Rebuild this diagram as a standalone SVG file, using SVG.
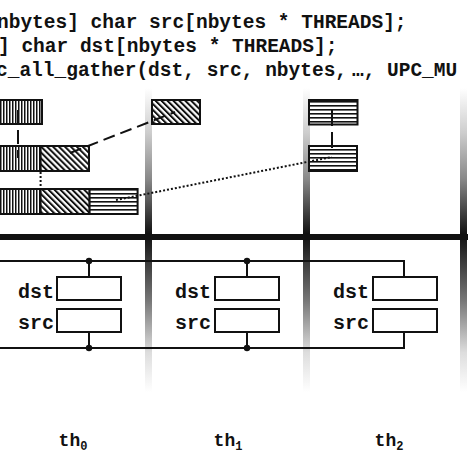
<svg xmlns="http://www.w3.org/2000/svg" width="474" height="474" viewBox="0 0 474 474">
<defs>
<style>
.code{font-family:"Liberation Mono","Courier New",monospace;font-weight:bold;font-size:19.5px;fill:#111}
.lbl{font-family:"Liberation Mono","Courier New",monospace;font-weight:bold;font-size:20px;fill:#111;text-anchor:end}
.th{font-family:"Liberation Mono","Courier New",monospace;font-weight:bold;font-size:18px;fill:#111;text-anchor:middle}
.blk{stroke:#111;stroke-width:2}
.box{fill:#fff;stroke:#111;stroke-width:2}
.wire{fill:none;stroke:#111;stroke-width:2}
.bar{fill:url(#barg)}
</style>
<linearGradient id="barg" gradientUnits="userSpaceOnUse" x1="0" y1="88" x2="0" y2="392">
<stop offset="0" stop-color="#fff"/>
<stop offset="0.15" stop-color="#ccc"/>
<stop offset="0.3" stop-color="#888"/>
<stop offset="0.48" stop-color="#111"/>
<stop offset="0.52" stop-color="#222"/>
<stop offset="0.7" stop-color="#777"/>
<stop offset="0.87" stop-color="#ddd"/>
<stop offset="1" stop-color="#fff"/>
</linearGradient>
<pattern id="vs" width="3" height="3" patternUnits="userSpaceOnUse"><rect width="3" height="3" fill="#fff"/><rect width="1.5" height="3" fill="#111"/></pattern>
<pattern id="hs" width="4" height="4" patternUnits="userSpaceOnUse"><rect width="4" height="4" fill="#fff"/><rect y="1" width="4" height="1.6" fill="#111"/></pattern>
<pattern id="ds" width="4.2" height="4.2" patternUnits="userSpaceOnUse" patternTransform="rotate(-45)"><rect width="4.2" height="4.2" fill="#fff"/><rect width="2" height="4.2" fill="#111"/></pattern>
</defs>
<rect width="474" height="474" fill="#fff"/>

<g id="code">
<text class="code" x="-3" y="28">nbytes] char src[nbytes * THREADS];</text>
<text class="code" x="-2" y="52">] char dst[nbytes * THREADS];</text>
<text class="code" x="-4" y="76">c_all_gather(dst, src, nbytes,<tspan x="352">…,</tspan><tspan x="387">UPC_MU</tspan></text>
</g>

<g id="thread-bars">
<rect class="bar" x="145" y="88" width="7" height="304"/>
<rect class="bar" x="303" y="88" width="7" height="304"/>
<rect class="bar" x="460" y="88" width="7" height="304"/>
</g>

<g id="bus">
<rect x="0" y="234" width="468" height="6" fill="#111"/>
</g>

<g id="th0-mem">
<rect class="blk" x="-5" y="100" width="47" height="24" fill="url(#vs)"/>
<rect class="blk" x="-5" y="146" width="45.6" height="25" fill="url(#vs)"/>
<rect class="blk" x="40.6" y="146" width="48.4" height="25" fill="url(#ds)"/>
<rect class="blk" x="-5" y="189" width="45.6" height="25" fill="url(#vs)"/>
<rect class="blk" x="40.6" y="189" width="49" height="25" fill="url(#ds)"/>
<rect class="blk" x="89.6" y="189" width="48" height="25" fill="url(#hs)"/>
</g>
<g id="th1-mem">
<rect class="blk" x="152" y="100" width="48" height="24" fill="url(#ds)"/>
</g>
<g id="th2-mem">
<rect class="blk" x="309" y="100" width="48.5" height="24.5" fill="url(#hs)"/>
<rect class="blk" x="309" y="146" width="48" height="25" fill="url(#hs)"/>
</g>

<g id="connectors">
<line x1="18" y1="110" x2="18" y2="158" class="wire" stroke-dasharray="14 6"/>
<line x1="332" y1="110" x2="332" y2="152" class="wire" stroke-width="2.5" stroke-dasharray="16 6"/>
<line x1="70" y1="153" x2="175" y2="112" class="wire" stroke-width="2.5" stroke-dasharray="12 6"/>
<line x1="40.6" y1="172" x2="40.6" y2="189" class="wire" stroke-width="2.5" stroke-dasharray="2 2"/>
<line x1="116" y1="200" x2="332" y2="157" class="wire" stroke-width="2.5" stroke-dasharray="2 2"/>
<polyline class="wire" points="0,261 404,261 404,284"/>
<polyline class="wire" points="0,348 404,348 404,324"/>
<line x1="89" y1="261" x2="89" y2="284" class="wire"/>
<line x1="89" y1="348" x2="89" y2="324" class="wire"/>
<line x1="247" y1="261" x2="247" y2="284" class="wire"/>
<line x1="247" y1="348" x2="247" y2="324" class="wire"/>
<circle cx="89" cy="261" r="3.2" fill="#111"/>
<circle cx="89" cy="348" r="3.2" fill="#111"/>
<circle cx="247" cy="261" r="3.2" fill="#111"/>
<circle cx="247" cy="348" r="3.2" fill="#111"/>
</g>

<g id="th0">
<text class="lbl" x="54" y="298">dst</text>
<rect class="box" x="57" y="277" width="64" height="23" fill="none"/>
<text class="lbl" x="54" y="329">src</text>
<rect class="box" x="57" y="309" width="64" height="23" fill="none"/>
<text class="th" x="73" y="446">th<tspan font-size="12" dy="4">0</tspan></text>
</g>
<g id="th1">
<text class="lbl" x="211" y="298">dst</text>
<rect class="box" x="215" y="277" width="64" height="23" fill="none"/>
<text class="lbl" x="211" y="329">src</text>
<rect class="box" x="215" y="309" width="64" height="23" fill="none"/>
<text class="th" x="228" y="446">th<tspan font-size="12" dy="4">1</tspan></text>
</g>
<g id="th2">
<text class="lbl" x="369" y="298">dst</text>
<rect class="box" x="373" y="277" width="64" height="23" fill="none"/>
<text class="lbl" x="369" y="329">src</text>
<rect class="box" x="373" y="309" width="64" height="23" fill="none"/>
<text class="th" x="389" y="446">th<tspan font-size="12" dy="4">2</tspan></text>
</g>
</svg>
